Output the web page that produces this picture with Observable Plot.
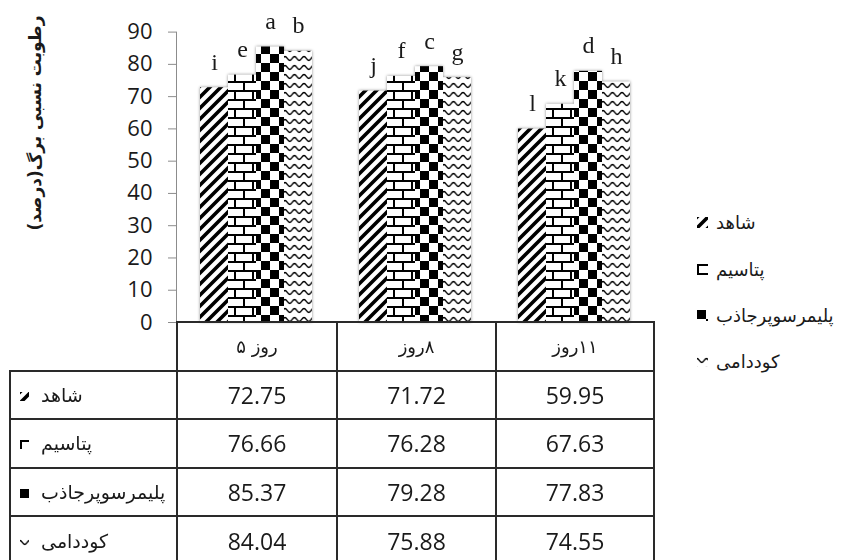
<!DOCTYPE html>
<html><head><meta charset="utf-8">
<script src="https://cdn.jsdelivr.net/npm/d3@7"></script>
<script src="https://cdn.jsdelivr.net/npm/@observablehq/plot@0.6"></script>
<style>
body{margin:0;background:#fff;}
#wrap{position:relative;width:848px;height:560px;overflow:hidden;background:#fff;}
#wrap > svg.chart{position:absolute;left:0;top:0;}
svg.chart text{fill:#1a1a1a !important;}
svg.chart g[aria-label="bar"]{filter:drop-shadow(0 0 1.5px rgba(0,0,0,.45));}
#ytitle{position:absolute;left:35px;top:123px;transform:translate(-50%,-50%) rotate(-90deg);white-space:nowrap;font:bold 17px "DejaVu Sans",sans-serif;color:#1a1a1a;direction:rtl;}
table.t{position:absolute;left:9px;top:321px;border-collapse:collapse;table-layout:fixed;}
table.t td{border:2px solid #2a2a2a;padding:0;color:#1a1a1a;}
table.t tr{height:48.6px;}
td.num{text-align:center;font:23px "Open Sans",sans-serif;}
td.hd{text-align:center;font:18px "DejaVu Sans",sans-serif;direction:rtl;}
td.rh{text-align:left;font:19px "DejaVu Sans",sans-serif;padding-left:9px !important;white-space:nowrap;}
td.empty{border-top:none !important;border-left:none !important;}
.leg{position:absolute;left:697px;font:18px "DejaVu Sans",sans-serif;color:#1a1a1a;white-space:nowrap;display:flex;align-items:center;height:26px;}
.sw{display:inline-block;vertical-align:middle;}
</style></head>
<body><div id="wrap"></div>
<script>
// ---- data ----
const groups = ["روز ۵", "۸روز", "۱۱روز"];
const series = ["شاهد", "پتاسیم", "پلیمرسوپرجاذب", "کوددامی"];
const shahed = [72.75, 71.72, 59.95];
const potassium = [76.66, 76.28, 67.63];
const polymer = [85.37, 79.28, 77.83];
const manure = [84.04, 75.88, 74.55];
const lettersShahed = ["i", "j", "l"];
const lettersPotassium = ["e", "f", "k"];
const lettersPolymer = ["a", "c", "d"];
const lettersManure = ["b", "g", "h"];
const yTicks = [0, 10, 20, 30, 40, 50, 60, 70, 80, 90];
const yTitle = "رطوبت نسبی برگ(درصد)";

const valuesBySeries = [shahed, potassium, polymer, manure];
const lettersBySeries = [lettersShahed, lettersPotassium, lettersPolymer, lettersManure];
const rows = [];
groups.forEach((g, gi) => series.forEach((s, si) => rows.push({group: g, series: s, value: valuesBySeries[si][gi], letter: lettersBySeries[si][gi]})));

const wrap = document.getElementById("wrap");

// ---- pattern defs ----
const defsSvg = d3.create("svg").attr("width", 0).attr("height", 0).style("position", "absolute");
const defs = defsSvg.append("defs");
// diagonal wide upward
let p = defs.append("pattern").attr("id", "pat0").attr("patternUnits", "userSpaceOnUse").attr("width", 11).attr("height", 11);
p.append("rect").attr("width", 11).attr("height", 11).attr("fill", "#fff");
p.append("path").attr("d", "M-3,3 L3,-3 M0,11 L11,0 M8,14 L14,8").attr("stroke", "#000").attr("stroke-width", 3.6);
// horizontal brick
p = defs.append("pattern").attr("id", "pat1").attr("patternUnits", "userSpaceOnUse").attr("width", 18).attr("height", 18);
p.append("rect").attr("width", 18).attr("height", 18).attr("fill", "#fff");
p.append("path").attr("d", "M0,1 H18 M0,10 H18 M1,1 V10 M10,10 V18").attr("stroke", "#000").attr("stroke-width", 2);
// large checkerboard
p = defs.append("pattern").attr("id", "pat2").attr("patternUnits", "userSpaceOnUse").attr("width", 18).attr("height", 18);
p.append("rect").attr("width", 18).attr("height", 18).attr("fill", "#fff");
p.append("rect").attr("width", 9).attr("height", 9).attr("fill", "#000");
p.append("rect").attr("x", 9).attr("y", 9).attr("width", 9).attr("height", 9).attr("fill", "#000");
// wave
p = defs.append("pattern").attr("id", "pat3").attr("patternUnits", "userSpaceOnUse").attr("width", 9.5).attr("height", 9);
p.append("rect").attr("width", 9.5).attr("height", 9).attr("fill", "#fff");
p.append("path").attr("d", "M0,2.5 C2,2.5 2.6,6.5 4.75,6.5 C6.9,6.5 7.5,2.5 9.5,2.5").attr("stroke", "#000").attr("stroke-width", 1.3).attr("fill", "none");
wrap.appendChild(defsSvg.node());

// ---- chart ----
const chart = Plot.plot({
  width: 848,
  height: 560,
  marginLeft: 176,
  marginRight: 195,
  marginTop: 31.6,
  marginBottom: 238,
  fx: {domain: groups, padding: 0, axis: null, label: null},
  x: {domain: series, paddingInner: 0, paddingOuter: 0.76, axis: null},
  y: {domain: [0, 90], ticks: yTicks, tickSize: 8, tickPadding: 16, line: true, label: null},
  color: {type: "ordinal", domain: series, range: series.map((_, i) => `url(#pat${i})`)},
  style: {fontFamily: "'Open Sans', sans-serif", fontSize: "22px", color: "#8c8c8c", background: "transparent", overflow: "visible"},
  marks: [
    Plot.barY(rows, {fx: "group", x: "series", y: "value", fill: "series"}),
    Plot.text(rows, {fx: "group", x: "series", y: "value", text: "letter", lineAnchor: "bottom", dy: -18, fontFamily: "'Liberation Serif', serif", fontSize: 24})
  ]
});
chart.classList.add("chart");
wrap.appendChild(chart);

// ---- y title ----
const yt = document.createElement("div");
yt.id = "ytitle";
yt.textContent = yTitle;
wrap.appendChild(yt);

// ---- swatch helper ----
function swatch(i, size) {
  const s = d3.create("svg").attr("class", "sw").attr("width", size).attr("height", size);
  s.append("rect").attr("width", size).attr("height", size).attr("fill", `url(#pat${i})`);
  return s.node();
}

// ---- data table ----
const table = document.createElement("table");
table.className = "t";
const colW = [167, 160, 159, 158];
const cg = document.createElement("colgroup");
colW.forEach(w => { const c = document.createElement("col"); c.style.width = w + "px"; cg.appendChild(c); });
table.appendChild(cg);
const hr = document.createElement("tr");
const e0 = document.createElement("td"); e0.className = "empty"; hr.appendChild(e0);
groups.forEach(g => { const td = document.createElement("td"); td.className = "hd"; td.textContent = g; hr.appendChild(td); });
table.appendChild(hr);
series.forEach((s, si) => {
  const tr = document.createElement("tr");
  const th = document.createElement("td"); th.className = "rh";
  th.appendChild(swatch(si, 9));
  const sp = document.createElement("span"); sp.textContent = " " + s; sp.style.marginLeft = "6px";
  th.appendChild(sp);
  tr.appendChild(th);
  valuesBySeries[si].forEach(v => { const td = document.createElement("td"); td.className = "num"; td.textContent = v.toFixed(2); tr.appendChild(td); });
  table.appendChild(tr);
});
wrap.appendChild(table);

// ---- legend ----
const legTops = [209, 256, 302, 348];
series.forEach((s, si) => {
  const d = document.createElement("div");
  d.className = "leg";
  d.style.top = legTops[si] + "px";
  d.appendChild(swatch(si, 11));
  const sp = document.createElement("span"); sp.textContent = s; sp.style.marginLeft = "8px";
  d.appendChild(sp);
  wrap.appendChild(d);
});
</script>
</body></html>
